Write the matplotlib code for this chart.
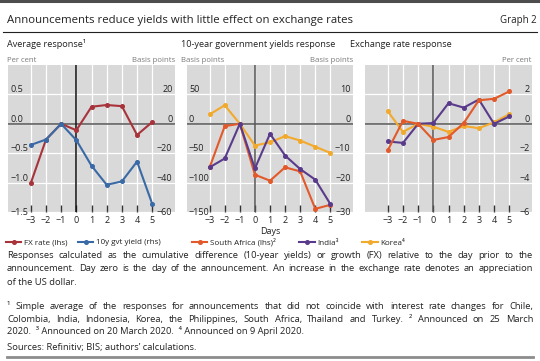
import matplotlib
matplotlib.use('Agg')
import matplotlib.pyplot as plt
import matplotlib.transforms as mtransforms
from matplotlib.lines import Line2D

plt.rcParams['font.family'] = ['Open Sans', 'DejaVu Sans']

W, H = 540, 361

DAYS = [-3, -2, -1, 0, 1, 2, 3, 4, 5]

# Average response: FX (lhs, per cent), 10y yield (rhs, basis points)
avg_fx = [-1.01, -0.27, 0.0, -0.11, 0.29, 0.32, 0.30, -0.19, 0.03]
avg_yield = [-14.4, -10.7, 0.0, -11.1, -28.5, -41.5, -39.2, -25.7, -54.5]

# 10-year yields: South Africa lhs, India and Korea rhs (basis points)
yld_sa = [-74, -4, 0, -86.5, -96.8, -74, -81, -144.6, -137.8]
yld_india = [-14.8, -11.8, 0, -15.2, -3.4, -10.8, -15.4, -19.0, -27.3]
yld_korea = [3.2, 6.3, 0, -7.4, -6.3, -4.2, -5.7, -7.8, -9.9]

# Exchange rates (per cent)
fx_sa = [-1.8, 0.2, 0, -1.1, -0.9, 0.05, 1.6, 1.7, 2.2]
fx_india = [-1.2, -1.3, 0, 0.05, 1.4, 1.1, 1.65, 0.0, 0.5]
fx_korea = [0.85, -0.55, 0, -0.2, -0.55, -0.15, -0.3, 0.1, 0.65]

P1_LHS = [-1.5, -1.0, -0.5, 0.0, 0.5]
P1_RHS = [-60, -40, -20, 0, 20]
P2_LHS = [-150, -100, -50, 0, 50]
P2_RHS = [-30, -20, -10, 0, 10]
P3_RHS = [-6, -4, -2, 0, 2]

TITLE = 'Announcements reduce yields with little effect on exchange rates'
PANEL_TITLES = ['Average response\u00b9', '10-year government yields response',
                'Exchange rate response']

NOTE = ['Responses calculated as the cumulative difference (10-year yields) or growth (FX) relative to the day prior to the',
        'announcement. Day zero is the day of the announcement. An increase in the exchange rate denotes an appreciation',
        'of the US dollar.']
FOOT = ['\u00b9 Simple average of the responses for announcements that did not coincide with interest rate changes for Chile,',
        'Colombia, India, Indonesia, Korea, the Philippines, South Africa, Thailand and Turkey.  \u00b2 Announced on 25 March',
        '2020.  \u00b3 Announced on 20 March 2020.  \u2074 Announced on 9 April 2020.']
SOURCE = "Sources: Refinitiv; BIS; authors\u2019 calculations."

RED = '#a8333b'
BLUE = '#3a6aa6'
ORANGE = '#e2592a'
PURPLE = '#5a3b8b'
YELLOW = '#f2a92c'
BG = '#d9d9d9'
TXT = '#222222'
UNIT = '#7a7a7a'

TICK_FS = 6.5
UNIT_FS = 5.6

fig = plt.figure(figsize=(W / 100, H / 100), dpi=100)
renderer = fig.canvas.get_renderer()


def fx(px):
    return px / W


def fy(py):
    return 1 - py / H


def make_panel(left, right, ylim, ticks, zero_color):
    top, bottom = 65, 212
    ax = fig.add_axes([fx(left), fy(bottom), fx(right - left), (bottom - top) / H])
    ax.set_facecolor(BG)
    for s in ax.spines.values():
        s.set_visible(False)
    ax.set_xlim(-4.5, 6.5)
    ax.set_ylim(*ylim)
    ax.set_xticks(DAYS)
    ax.set_xticklabels([str(d).replace('-', '\u2212') for d in DAYS])
    ax.set_yticks(ticks)
    ax.tick_params(axis='x', direction='in', length=5, width=1, color='#333333',
                   pad=3, labelsize=TICK_FS, labelcolor=TXT)
    ax.tick_params(axis='y', length=0, labelleft=False)
    ax.grid(True, color='white', lw=0.9)
    ax.set_axisbelow(True)
    ax.axhline(0, color='#555555', lw=1.1, zorder=1)
    ax.axvline(0, color=zero_color, lw=1.1, zorder=1)
    return ax


def ylabels(ax, ticks, side, fmt):
    tr = mtransforms.blended_transform_factory(ax.transAxes, ax.transData)
    lo = ax.get_ylim()[0]
    for v in ticks:
        s = fmt(v).replace('-', '\u2212')
        va = 'center' if v == lo else 'bottom'
        if side == 'left':
            ax.text(0.012, v, s, transform=tr, ha='left', va=va, fontsize=TICK_FS, color=TXT)
        else:
            ax.text(0.985, v, s, transform=tr, ha='right', va=va, fontsize=TICK_FS, color=TXT)


def plot_line(ax, y, color, label):
    return ax.plot(DAYS, y, color=color, lw=1.5, marker='o', ms=2.6, label=label)[0]


# Panel 1
ax1 = make_panel(8, 175, (-1.5, 1.0), P1_LHS, '#111111')
ax1b = ax1.twinx()
ax1b.set_ylim(-60, 40)
ax1b.axis('off')
h_yield = plot_line(ax1b, avg_yield, BLUE, '10y gvt yield (rhs)')
h_fx = plot_line(ax1, avg_fx, RED, 'FX rate (lhs)')
ylabels(ax1, P1_LHS, 'left', lambda v: f'{v:.1f}')
ylabels(ax1b, P1_RHS, 'right', lambda v: f'{v:d}')

# Panel 2
ax2 = make_panel(187, 353, (-150, 100), P2_LHS, '#555555')
ax2b = ax2.twinx()
ax2b.set_ylim(-30, 20)
ax2b.axis('off')
h_sa = plot_line(ax2, yld_sa, ORANGE, 'South Africa (lhs)\u00b2')
h_kr = plot_line(ax2b, yld_korea, YELLOW, 'Korea\u2074')
h_in = plot_line(ax2b, yld_india, PURPLE, 'India\u00b3')
ylabels(ax2, P2_LHS, 'left', lambda v: f'{v:d}')
ylabels(ax2b, P2_RHS, 'right', lambda v: f'{v:d}')

# Panel 3
ax3 = make_panel(365, 532, (-6, 4), P3_RHS, '#555555')
plot_line(ax3, fx_korea, YELLOW, 'Korea')
plot_line(ax3, fx_india, PURPLE, 'India')
plot_line(ax3, fx_sa, ORANGE, 'South Africa')
ylabels(ax3, P3_RHS, 'right', lambda v: f'{v:d}')

ax2.set_xlabel('Days', fontsize=TICK_FS, color=TXT, labelpad=1)

# header
fig.add_artist(Line2D([fx(0), fx(540)], [fy(1.2), fy(1.2)], color='#4d4d4d', lw=2.2))
fig.add_artist(Line2D([fx(3), fx(537)], [fy(32.3), fy(32.3)], color='#222222', lw=0.8))
fig.add_artist(Line2D([fx(7), fx(533)], [fy(357.3), fy(357.3)], color='#8c8c8c', lw=2.0))
fig.text(fx(7), fy(23.5), TITLE, fontsize=8.2, color=TXT, va='baseline')
fig.text(fx(537), fy(23.5), 'Graph 2', fontsize=7.0, color=TXT, va='baseline', ha='right')

for x, t in zip([7, 181, 350], PANEL_TITLES):
    fig.text(fx(x), fy(47), t, fontsize=6.6, color=TXT, va='baseline')

units = [(7, 'Per cent', 'left'), (175, 'Basis points', 'right'),
         (181, 'Basis points', 'left'), (353, 'Basis points', 'right'),
         (532, 'Per cent', 'right')]
for x, t, ha in units:
    fig.text(fx(x), fy(61.5), t, fontsize=UNIT_FS, color=UNIT, va='baseline', ha=ha)

# legends
leg_kw = dict(loc='center left', frameon=False, fontsize=5.8, handlelength=1.9,
              handletextpad=0.35, borderaxespad=0, borderpad=0, numpoints=1,
              labelcolor=TXT)
lg1 = fig.legend([h_fx, h_yield], ['FX rate (lhs)', '10y gvt yield (rhs)'], ncol=2,
                 bbox_to_anchor=(fx(6), fy(242.5)), columnspacing=1.3, **leg_kw)
lg2 = fig.legend([h_sa, h_in, h_kr], ['South Africa (lhs)\u00b2', 'India\u00b3', 'Korea\u2074'],
                 ncol=3, bbox_to_anchor=(fx(192), fy(242.5)), columnspacing=2.9, **leg_kw)


# notes: pick a size so the longest line fits naturally, then justify
def natural_width(line, size):
    t = fig.text(0, 0, line, fontsize=size)
    w = t.get_window_extent(renderer).width
    t.remove()
    return w


base = 6.0
widest = max(natural_width(l, base) for l in NOTE[:2] + FOOT[:2])
NOTE_FS = base * 508 / widest


def put_lines(lines, baselines, x0=7, x1=533):
    for i, (line, yb) in enumerate(zip(lines, baselines)):
        if i == len(lines) - 1:
            fig.text(fx(x0), fy(yb), line, fontsize=NOTE_FS, color=TXT, va='baseline')
            continue
        words = line.split()
        objs = [fig.text(0, fy(yb), w, fontsize=NOTE_FS, color=TXT, va='baseline') for w in words]
        widths = [o.get_window_extent(renderer).width for o in objs]
        gap = (x1 - x0 - sum(widths)) / (len(words) - 1)
        xp = x0
        for o, wd in zip(objs, widths):
            o.set_x(fx(xp))
            xp += wd + gap


put_lines(NOTE, [258.2, 271.4, 284.6])
put_lines(FOOT, [309, 321.7, 334.4])
fig.text(fx(7), fy(350), SOURCE, fontsize=NOTE_FS, color=TXT, va='baseline')

fig.savefig('out.png', dpi=100)
